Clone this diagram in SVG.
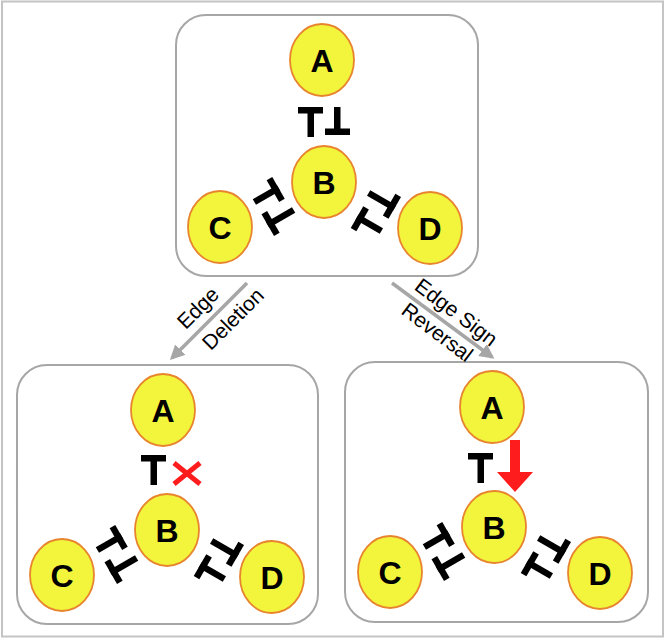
<svg xmlns="http://www.w3.org/2000/svg" width="667" height="640" viewBox="0 0 667 640">
  <defs>
    <style>
      .frame{fill:#fff;stroke:#c4c4c4;stroke-width:2}
      .box{fill:#fff;stroke:#a6a6a6;stroke-width:2}
      .node{fill:#f2f53c;stroke:#e8842e;stroke-width:1.8}
      .lbl{font-family:"Liberation Sans",Arial,sans-serif;font-weight:bold;font-size:32px;fill:#000;text-anchor:middle}
      .elbl{font-family:"Liberation Sans",Arial,sans-serif;font-size:21px;fill:#000;text-anchor:middle}
      .inh{fill:#000}
      .garrow{stroke:#a6a6a6;stroke-width:3.5;fill:none}
    </style>
    <marker id="ah" viewBox="0 0 10 10" refX="8" refY="5" markerWidth="4.2" markerHeight="4.2" orient="auto" markerUnits="strokeWidth">
      <path d="M0,0 L10,5 L0,10 Z" fill="#a6a6a6"/>
    </marker>
    <g id="pair">
      <rect x="-26" y="-15" width="25" height="6.5"/>
      <rect x="-16.5" y="-15" width="6.5" height="30"/>
      <rect x="10" y="-15" width="6.5" height="28"/>
      <rect x="1" y="6.5" width="25" height="6.5"/>
    </g>
    <g id="tonly">
      <rect x="-26" y="-15" width="25" height="6.5"/>
      <rect x="-16.5" y="-15" width="6.5" height="30"/>
    </g>
  </defs>

  <rect class="frame" x="2" y="1.5" width="661" height="635"/>

  <!-- boxes -->
  <rect class="box" x="176" y="15" width="302" height="261" rx="30" ry="30"/>
  <rect class="box" x="17" y="365" width="301" height="259" rx="30" ry="30"/>
  <rect class="box" x="345" y="362" width="303" height="260" rx="30" ry="30"/>

  <g id="connectors">
    <line class="garrow" x1="247" y1="283" x2="172" y2="358" marker-end="url(#ah)"/>
    <line class="garrow" x1="392" y1="283" x2="492" y2="357" marker-end="url(#ah)"/>
    <text class="elbl" transform="translate(203,313) rotate(-45)">Edge</text>
    <text class="elbl" transform="translate(238,324) rotate(-45)">Deletion</text>
    <text class="elbl" transform="translate(452,318) rotate(37)">Edge Sign</text>
    <text class="elbl" transform="translate(433,338) rotate(37)">Reversal</text>

    <!-- top box inhibitions -->
    <g class="inh">
      <use href="#pair" transform="translate(324,122)"/>
      <use href="#pair" transform="translate(274,206) rotate(-120)"/>
      <use href="#pair" transform="translate(375,212) rotate(120)"/>
    </g>
    <!-- bottom-left -->
    <g class="inh">
      <use href="#tonly" transform="translate(167,470)"/>
      <use href="#pair" transform="translate(117,554) rotate(-120)"/>
      <use href="#pair" transform="translate(218,560) rotate(120)"/>
    </g>
    <path d="M174,463 L200,484 M174,484 L200,463" stroke="#ff1c1c" stroke-width="5" fill="none"/>
    <!-- bottom-right -->
    <g class="inh">
      <use href="#tonly" transform="translate(494,468)"/>
      <use href="#pair" transform="translate(444,551) rotate(-120)"/>
      <use href="#pair" transform="translate(545,557) rotate(120)"/>
    </g>
    <polygon points="510,440 520,440 520,472 533,472 515,492 497,472 510,472" fill="#ff1c1c"/>
  </g>

  <!-- top box nodes -->
  <g id="top-A"><ellipse class="node" cx="322" cy="60" rx="32" ry="36"/><text class="lbl" x="322" y="72">A</text></g>
  <g id="top-B"><ellipse class="node" cx="324" cy="182" rx="32" ry="36"/><text class="lbl" x="324" y="194">B</text></g>
  <g id="top-C"><ellipse class="node" cx="220" cy="227" rx="32" ry="36"/><text class="lbl" x="220" y="239">C</text></g>
  <g id="top-D"><ellipse class="node" cx="430" cy="228" rx="32" ry="36"/><text class="lbl" x="430" y="240">D</text></g>

  <!-- bottom-left nodes -->
  <g id="del-A"><ellipse class="node" cx="163" cy="410" rx="32" ry="36"/><text class="lbl" x="163" y="422">A</text></g>
  <g id="del-B"><ellipse class="node" cx="167" cy="530" rx="32" ry="36"/><text class="lbl" x="167" y="542">B</text></g>
  <g id="del-C"><ellipse class="node" cx="62" cy="575" rx="32" ry="36"/><text class="lbl" x="62" y="587">C</text></g>
  <g id="del-D"><ellipse class="node" cx="272" cy="577" rx="32" ry="36"/><text class="lbl" x="272" y="589">D</text></g>

  <!-- bottom-right nodes -->
  <g id="rev-A"><ellipse class="node" cx="492" cy="407" rx="32" ry="36"/><text class="lbl" x="492" y="419">A</text></g>
  <g id="rev-B"><ellipse class="node" cx="494" cy="527" rx="32" ry="36"/><text class="lbl" x="494" y="539">B</text></g>
  <g id="rev-C"><ellipse class="node" cx="390" cy="572" rx="32" ry="36"/><text class="lbl" x="390" y="584">C</text></g>
  <g id="rev-D"><ellipse class="node" cx="600" cy="573" rx="32" ry="36"/><text class="lbl" x="600" y="585">D</text></g>
</svg>
